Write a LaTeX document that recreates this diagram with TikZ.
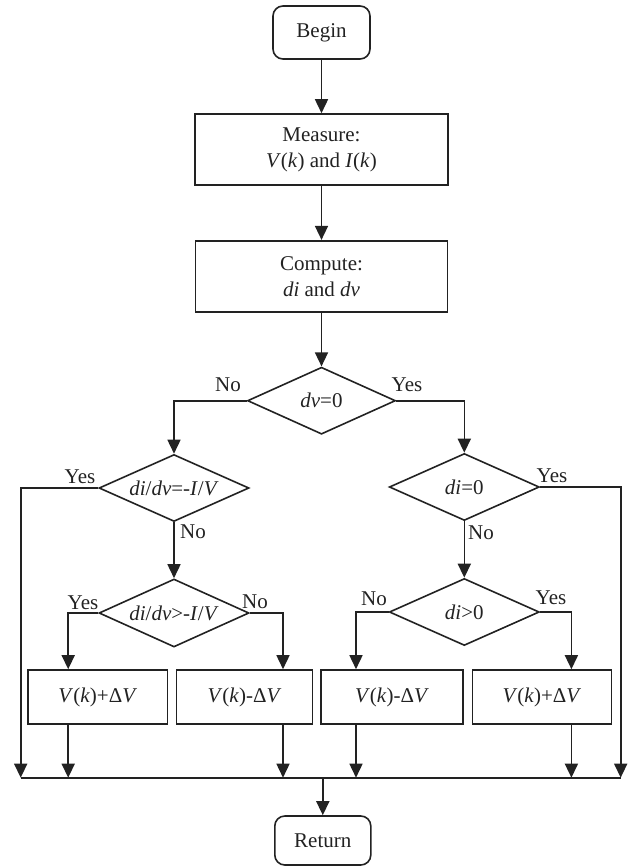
\documentclass[tikz,border=0pt]{standalone}
\usepackage{fontspec}
\setmainfont{Liberation Serif}
\usetikzlibrary{arrows.meta,shapes.geometric}
\definecolor{ink}{HTML}{222222}
\begin{document}
\begin{tikzpicture}[x=1pt,y=-1pt, line width=1.6pt, draw=ink,
 every node/.style={font=\fontsize{21}{26}\selectfont, inner sep=0pt, text=ink},
 boxnode/.style={draw=ink, rectangle, align=center},
 termnode/.style={draw=ink, rectangle, rounded corners=10pt},
 decnode/.style={draw=ink, diamond, aspect=2.2, minimum width=150pt, minimum height=67pt},
 arr/.style={-{Triangle[length=14pt,width=13pt]}}]
\useasboundingbox (0,0) rectangle (629,867);
% main column
\node[termnode, minimum width=97pt, minimum height=53pt] (begin) at (321.5,32.5) {Begin};
\node[boxnode, minimum width=253pt, minimum height=71pt] (measure) at (321.5,149.5) {Measure:\\\textit{V}(\textit{k}) and \textit{I}(\textit{k})};
\node[boxnode, minimum width=252pt, minimum height=71pt] (compute) at (321.5,276.2) {Compute:\\\textit{di} and \textit{dv}};
% decisions
\node[decnode, minimum width=148pt] (dv0) at (321.5,400.7) {\textit{dv}=0};
\node[decnode] (d1) at (174,488) {\textit{di}/\textit{dv}=-\textit{I}/\textit{V}};
\node[decnode, minimum height=68pt] (d2) at (174,613) {\textit{di}/\textit{dv}>-\textit{I}/\textit{V}};
\node[decnode] (d3) at (464.3,487) {\textit{di}=0};
\node[decnode] (d4) at (464.3,612) {\textit{di}>0};
% action boxes
\node[boxnode, minimum width=139.6pt, minimum height=54pt] (b1) at (97.8,697) {\textit{V}(\textit{k})+Δ\textit{V}};
\node[boxnode, minimum width=136.3pt, minimum height=54pt] (b2) at (244.5,697) {\textit{V}(\textit{k})-Δ\textit{V}};
\node[boxnode, minimum width=142.3pt, minimum height=54pt] (b3) at (392,697) {\textit{V}(\textit{k})-Δ\textit{V}};
\node[boxnode, minimum width=139.2pt, minimum height=54pt] (b4) at (541.9,697) {\textit{V}(\textit{k})+Δ\textit{V}};
\node[termnode, minimum width=96pt, minimum height=49pt] (ret) at (322.8,840.5) {Return};
% bus coordinates
\coordinate (cL) at (20.7,777.7);
\coordinate (cR) at (620.7,777.7);
\coordinate (x1) at (68.2,777.7);
\coordinate (x2) at (283,777.7);
\coordinate (x3) at (356,777.7);
\coordinate (x4) at (571.4,777.7);
\coordinate (xm) at (322.8,777.7);
% connectors
\draw[arr] (begin) -- (measure);
\draw[arr] (measure) -- (compute);
\draw[arr] (compute) -- (dv0);
\draw[arr] (dv0.west) -| (d1.north);
\draw[arr] (dv0.east) -| (d3.north);
\draw[arr] (d1.west) -| (cL);
\draw[arr] (d3.east) -| (cR);
\draw[arr] (d1) -- (d2);
\draw[arr] (d3) -- (d4);
\draw[arr] (d2.west) -| (b1.north -| x1);
\draw[arr] (d2.east) -| (b2.north -| x2);
\draw[arr] (d4.west) -| (b3.north -| x3);
\draw[arr] (d4.east) -| (b4.north -| x4);
\draw[arr] (b1.south -| x1) -- (x1);
\draw[arr] (b2.south -| x2) -- (x2);
\draw[arr] (b3.south -| x3) -- (x3);
\draw[arr] (b4.south -| x4) -- (x4);
\draw (cL) -- (cR);
\draw[arr] (xm) -- (ret);
% labels
\node (l1) at (228,385) {No};
\node (l2) at (407,385) {Yes};
\node (l3) at (80,477) {Yes};
\node (l4) at (193,532) {No};
\node (l5) at (552,476) {Yes};
\node (l6) at (481,533) {No};
\node (l7) at (83,603) {Yes};
\node (l8) at (255,602) {No};
\node (l9) at (374,599) {No};
\node (l10) at (551,598) {Yes};
\end{tikzpicture}
\end{document}
